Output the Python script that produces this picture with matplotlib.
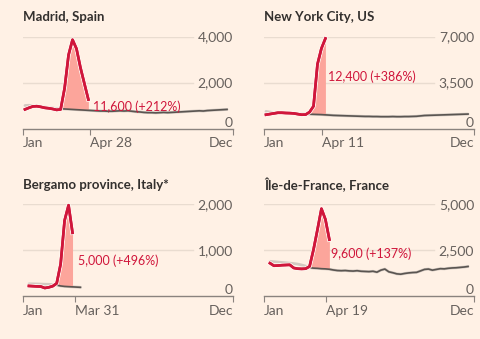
import numpy as np
import matplotlib.pyplot as plt
import matplotlib.patheffects as pe

# weekly deaths, 2020 (red) and historical baseline (grey)
cities = ["Madrid, Spain", "New York City, US", "Bergamo province, Italy*", "Île-de-France, France"]

madrid_start = 1
madrid_red = [830, 900, 960, 970, 940, 900, 880, 850, 810, 830, 1750, 3200, 3860, 3470, 2650, 1950, 1260]
madrid_base = [1000, 1010, 990, 970, 950, 930, 910, 890, 870, 860, 850, 840, 830, 820, 810, 800, 790,
               780, 770, 760, 760, 750, 750, 760, 770, 760, 770, 750, 730, 720, 700, 690, 690, 680, 690,
               700, 690, 700, 710, 720, 730, 740, 750, 760, 770, 760, 780, 790, 800, 810, 820, 830]

nyc_start = 1
nyc_red = [1050, 1100, 1150, 1200, 1200, 1180, 1170, 1150, 1100, 1050, 1060, 1250, 1700, 4900, 6100, 6850]
nyc_base = [1300, 1250, 1200, 1180, 1160, 1150, 1140, 1130, 1120, 1110, 1100, 1090, 1080, 1070, 1060, 1040,
            1020, 1000, 990, 980, 970, 960, 950, 940, 930, 920, 920, 910, 910, 900, 900, 900, 910, 900,
            900, 910, 910, 920, 930, 960, 990, 1000, 1010, 1020, 1030, 1040, 1050, 1060, 1070, 1080, 1090, 1100]

bergamo_start = 2
bergamo_red = [225, 220, 215, 212, 180, 195, 220, 280, 700, 1650, 1980, 1380]
bergamo_base = [270, 270, 268, 265, 262, 260, 255, 245, 225, 215, 210, 205, 200, 195]

idf_start = 2
idf_red = [1800, 1660, 1670, 1690, 1700, 1710, 1540, 1500, 1490, 1500, 1620, 2540, 3630, 4760, 4180, 3080]
idf_base = [1900, 1880, 1860, 1840, 1820, 1800, 1780, 1750, 1700, 1640, 1560, 1530, 1520, 1500, 1490, 1470,
            1430, 1400, 1390, 1400, 1380, 1370, 1390, 1360, 1350, 1340, 1360, 1310, 1420, 1480, 1330, 1280,
            1220, 1200, 1240, 1270, 1290, 1300, 1380, 1460, 1480, 1420, 1460, 1500, 1490, 1520, 1540, 1550,
            1570, 1590, 1620]

starts = [madrid_start, nyc_start, bergamo_start, idf_start]
reds = [madrid_red, nyc_red, bergamo_red, idf_red]
bases = [madrid_base, nyc_base, bergamo_base, idf_base]
excess_start = [10, 12, 9, 12]           # week where the dark baseline / shading begins
yticks = [[0, 2000, 4000], [0, 3500, 7000], [0, 1000, 2000], [0, 2500, 5000]]
end_labels = ["Apr 28", "Apr 11", "Mar 31", "Apr 19"]
end_doy = [119, 102, 91, 110]
notes = ["11,600 (+212%)", "12,400 (+386%)", "5,000 (+496%)", "9,600 (+137%)"]
note_pos = [(18.1, 940), (16.6, 3920), (14.3, 780), (17.4, 2300)]

BG = "#fff1e5"
RED = "#d0163b"
PINK = "#fca59b"
GREY = "#66605c"
DGREY = "#5a5551"
LGREY = "#d3c9c1"
AXIS = "#8a837e"
GRID = "#e9dcd0"

plt.rcParams["font.family"] = ["Lato", "DejaVu Sans"]

fig = plt.figure(figsize=(4.8, 3.39), dpi=100, facecolor=BG)

lefts = [0.0479, 0.55, 0.0479, 0.55]
bottoms = [0.6209, 0.6209, 0.126, 0.126]
title_y = [0.951, 0.951, 0.454, 0.456]

for i in range(4):
    ax = fig.add_axes([lefts[i], bottoms[i], 0.4375, 0.2714])
    ax.set_facecolor(BG)
    red = np.array(reds[i])
    base = np.array(bases[i])
    wr = np.arange(starts[i], starts[i] + len(red))
    wb = np.arange(starts[i], starts[i] + len(base))

    ymax = yticks[i][-1]
    ax.set_xlim(0.5, 53.5)
    ax.set_ylim(0, ymax)

    for v in yticks[i][1:]:
        ax.axhline(v, xmax=0.81, color=GRID, lw=1, zorder=0)

    # baseline: light full line, dark from the start of the excess period
    ax.plot(wb, base, color=LGREY, lw=2.0, zorder=1, solid_capstyle="round")
    m = wb >= excess_start[i]
    ax.plot(wb[m], base[m], color=DGREY, lw=1.2, zorder=2)

    # shaded excess
    mr = wr >= excess_start[i]
    base_r = base[:len(red)]
    ax.fill_between(wr[mr], base_r[mr], red[mr], where=red[mr] >= base_r[mr],
                    color=PINK, lw=0, zorder=1.5, interpolate=True)
    ax.plot(wr, red, color=RED, lw=1.9, zorder=3, clip_on=False,
            path_effects=[pe.withStroke(linewidth=3.2, foreground="#fff8f2"), pe.Normal()])

    ax.text(note_pos[i][0], note_pos[i][1], notes[i], color=RED, fontsize=9,
            ha="left", va="center", zorder=4)

    for s in ["top", "right", "left"]:
        ax.spines[s].set_visible(False)
    ax.spines["bottom"].set_color(AXIS)
    ax.spines["bottom"].set_linewidth(1)

    ax.set_xticks([0.5, end_doy[i] / 7 + 0.5, 53.5])
    ax.set_xticklabels(["Jan", end_labels[i], "Dec"])
    ax.tick_params(axis="x", length=4, color=AXIS, labelcolor=GREY, labelsize=10, pad=2)
    xl = ax.get_xticklabels()
    xl[0].set_ha("left")
    xl[1].set_ha("left")
    xl[2].set_ha("right")

    ax.yaxis.tick_right()
    ax.set_yticks(yticks[i])
    ax.set_yticklabels([f"{v:,}" for v in yticks[i]])
    ax.tick_params(axis="y", length=0, pad=0, labelcolor=GREY, labelsize=10)
    yl = ax.get_yticklabels()
    for t in yl:
        t.set_ha("right")
    yl[0].set_va("bottom")

    fig.text(lefts[i], title_y[i], cities[i], fontsize=9.5, fontweight="bold",
             color="#33302e", ha="left", va="center")

fig.savefig("out.png", dpi=100, facecolor=BG)
